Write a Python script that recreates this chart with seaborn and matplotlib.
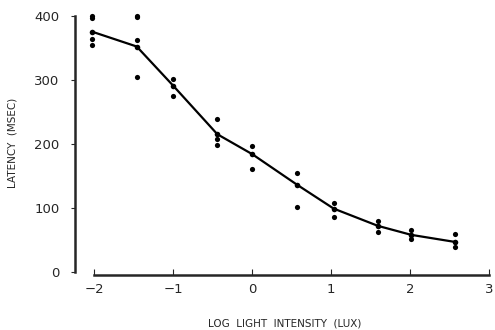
import pandas as pd
import matplotlib
matplotlib.use("Agg")
import matplotlib.pyplot as plt
import seaborn as sns

# Niveles de intensidad (log lux) y latencia media (línea)
log_lux = [-2.02, -1.46, -1.0, -0.44, 0.0, 0.57, 1.03, 1.59, 2.01, 2.56]
latencia_media = [375, 352, 291, 215, 184, 136, 99, 72, 58, 47]

# Observaciones individuales por nivel
obs_x = [-2.02, -2.02, -2.02, -2.02,
         -1.46, -1.46, -1.46, -1.46,
         -1.0, -1.0,
         -0.44, -0.44, -0.44,
         0.0, 0.0,
         0.57, 0.57,
         1.03, 1.03,
         1.59, 1.59,
         2.01, 2.01,
         2.56, 2.56]
obs_y = [400, 397, 364, 355,
         400, 398, 362, 304,
         301, 274,
         239, 207, 198,
         197, 160,
         154, 101,
         108, 86,
         80, 63,
         66, 51,
         59, 39]

media = pd.DataFrame({'x': log_lux, 'y': latencia_media})
puntos = pd.DataFrame({'x': obs_x, 'y': obs_y})

sns.set_style("ticks")
plt.rcParams['font.family'] = ['DejaVu Sans']

fig = plt.figure(figsize=(4.95, 3.3), dpi=100)
ax = fig.add_axes([75 / 495, 55 / 330, 420 / 495, 265 / 330])

sns.lineplot(data=media, x='x', y='y', color='black', linewidth=1.6,
             marker='o', markersize=4, markeredgewidth=0, ax=ax)
sns.scatterplot(data=puntos, x='x', y='y', color='black', s=14,
                linewidth=0, ax=ax, clip_on=False)

ax.set_xlim(-2.24, 3.07)
ax.set_ylim(-4.7, 409)

sns.despine(ax=ax)
ax.spines['left'].set_bounds(0, 400)
ax.spines['bottom'].set_bounds(-2.0, 3.0)
ax.spines['left'].set_linewidth(1.8)
ax.spines['bottom'].set_linewidth(1.8)

ax.set_xticks([-2, -1, 0, 1, 2, 3])
ax.set_yticks([0, 100, 200, 300, 400])
ax.tick_params(axis='x', direction='in', length=4, labelsize=9.5, pad=6)
ax.tick_params(axis='y', direction='out', length=3, labelsize=9.5, pad=8)

ax.set_xlabel('LOG  LIGHT  INTENSITY  (LUX)', fontsize=7.5, labelpad=16)
ax.set_ylabel('LATENCY  (MSEC)', fontsize=7.5, labelpad=12)

plt.savefig('out.png', dpi=100)
